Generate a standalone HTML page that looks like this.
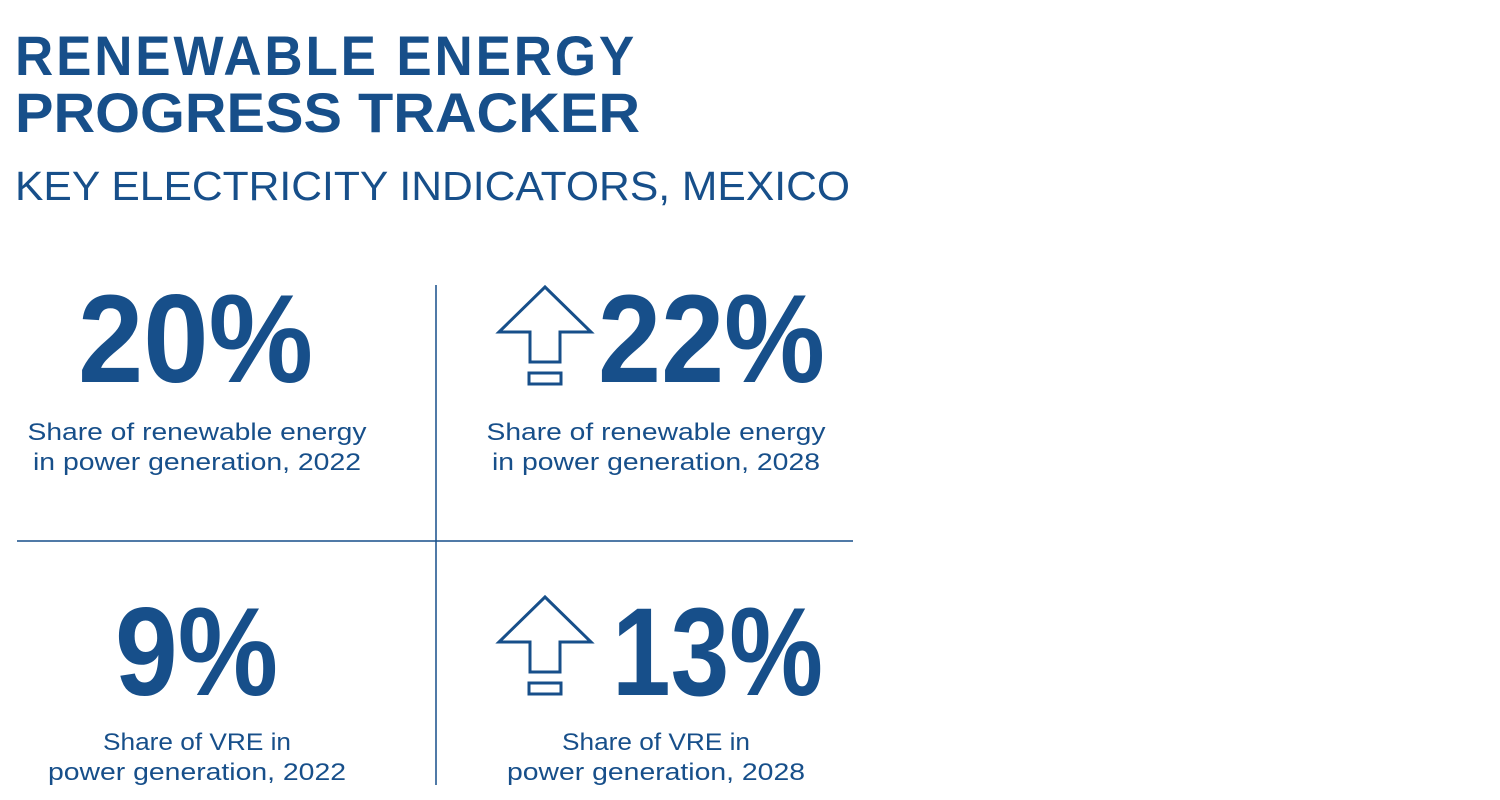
<!DOCTYPE html>
<html><head><meta charset="utf-8"><style>
html,body{margin:0;padding:0;background:#fff;width:1500px;height:800px;overflow:hidden}
svg{display:block}
text{font-family:"Liberation Sans",sans-serif;fill:#174f8a}
</style></head><body>
<svg width="1500" height="800" viewBox="0 0 1500 800">
<g>
<text x="15" y="75" font-size="56" font-weight="bold" textLength="622" lengthAdjust="spacingAndGlyphs" letter-spacing="3">RENEWABLE ENERGY</text>
<text x="15" y="132" font-size="56" font-weight="bold" textLength="625" lengthAdjust="spacingAndGlyphs">PROGRESS TRACKER</text>
</g>
<text x="15" y="200" font-size="41" textLength="835" lengthAdjust="spacingAndGlyphs">KEY ELECTRICITY INDICATORS, MEXICO</text>
<line x1="436" y1="285" x2="436" y2="785" stroke="#174f8a" stroke-width="1.5"/>
<line x1="17" y1="541" x2="853" y2="541" stroke="#174f8a" stroke-width="1.5"/>

<g>
<text x="78" y="382" font-size="125" font-weight="bold" textLength="235" lengthAdjust="spacingAndGlyphs">20%</text>
<text x="197" y="440" font-size="24" text-anchor="middle" textLength="339" lengthAdjust="spacingAndGlyphs">Share of renewable energy</text>
<text x="197" y="470" font-size="24" text-anchor="middle" textLength="328" lengthAdjust="spacingAndGlyphs">in power generation, 2022</text>
</g>
<g>
<path d="M545,287 L591,332 L560,332 L560,362 L530,362 L530,332 L499,332 Z" fill="none" stroke="#174f8a" stroke-width="3"/>
<rect x="529" y="373" width="32" height="11" fill="none" stroke="#174f8a" stroke-width="3"/>
<text x="598" y="382" font-size="125" font-weight="bold" textLength="227" lengthAdjust="spacingAndGlyphs">22%</text>
<text x="656" y="440" font-size="24" text-anchor="middle" textLength="339" lengthAdjust="spacingAndGlyphs">Share of renewable energy</text>
<text x="656" y="470" font-size="24" text-anchor="middle" textLength="328" lengthAdjust="spacingAndGlyphs">in power generation, 2028</text>
</g>
<g>
<text x="115" y="695" font-size="125" font-weight="bold" textLength="163" lengthAdjust="spacingAndGlyphs">9%</text>
<text x="197" y="750" font-size="24" text-anchor="middle" textLength="188" lengthAdjust="spacingAndGlyphs">Share of VRE in</text>
<text x="197" y="780" font-size="24" text-anchor="middle" textLength="298" lengthAdjust="spacingAndGlyphs">power generation, 2022</text>
</g>
<g>
<path d="M545,597 L591,642 L560,642 L560,672 L530,672 L530,642 L499,642 Z" fill="none" stroke="#174f8a" stroke-width="3"/>
<rect x="529" y="683" width="32" height="11" fill="none" stroke="#174f8a" stroke-width="3"/>
<text x="612" y="695" font-size="125" font-weight="bold" textLength="211" lengthAdjust="spacingAndGlyphs">13%</text>
<text x="656" y="750" font-size="24" text-anchor="middle" textLength="188" lengthAdjust="spacingAndGlyphs">Share of VRE in</text>
<text x="656" y="780" font-size="24" text-anchor="middle" textLength="298" lengthAdjust="spacingAndGlyphs">power generation, 2028</text>
</g>
</svg>
</body></html>
